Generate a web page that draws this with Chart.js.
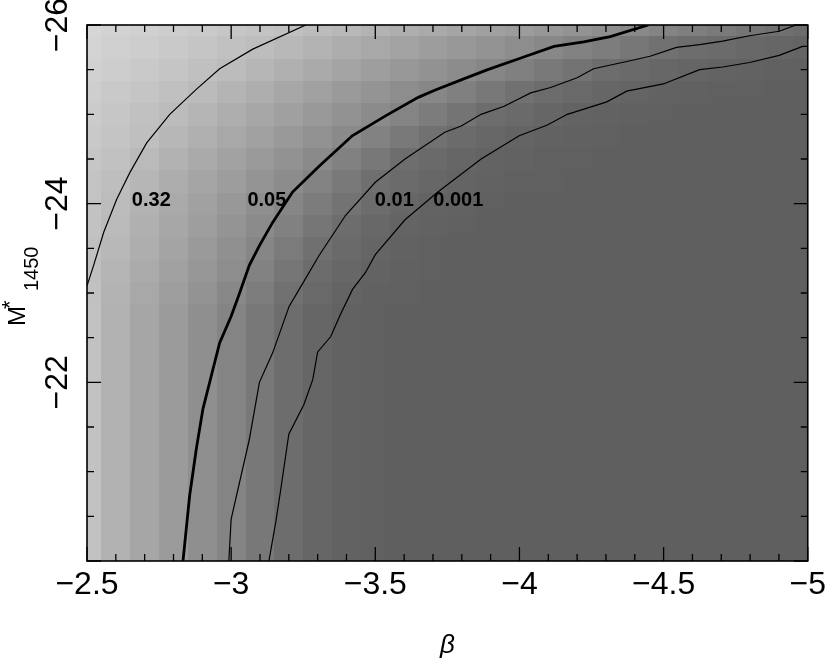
<!DOCTYPE html>
<html><head><meta charset="utf-8">
<script src="https://cdn.jsdelivr.net/npm/chart.js@4/dist/chart.umd.min.js"></script>
<style>html,body{margin:0;padding:0;background:#fff}canvas{display:block}</style>
</head><body>
<canvas id="c" width="831" height="658"></canvas>
<script>
// ---- grid of the grey map (cell centres) ----
const betaCells = [-2.5,-2.6,-2.7,-2.8,-2.9,-3.0,-3.1,-3.2,-3.3,-3.4,-3.5,-3.6,-3.7,-3.8,-3.9,-4.0,-4.1,-4.2,-4.3,-4.4,-4.5,-4.6,-4.7,-4.8,-4.9,-5.0];
const mCells = [-26,-25.75,-25.5,-25.25,-25,-24.75,-24.5,-24.25,-24,-23.75,-23.5,-23.25,-23,-22.75,-22.5,-22.25,-22,-21.75,-21.5,-21.25,-21,-20.75,-20.5,-20.25,-20];
// grey level (0-255) of each cell, one row per M*1450 value
const cellShade = [
 [214,211,208,205,202,198,195,192,188,184,179,174,170,165,160,156,151,147,142,137,132,127,122,117,112,108],
 [212,208,205,201,197,193,189,184,179,173,168,163,157,152,147,141,136,130,125,119,113,109,107,104,102,100],
 [209,205,201,197,192,188,182,176,170,164,158,152,146,140,134,128,121,115,109,106,103,101,99,98,97,96],
 [206,201,197,192,187,180,174,167,161,154,148,141,135,128,120,113,108,105,102,100,98,97,96,96,95,95],
 [203,198,193,188,181,174,167,160,153,146,139,132,124,116,109,106,102,99,98,97,96,95,95,95,95,95],
 [201,196,191,183,176,168,161,153,146,138,130,121,113,107,103,100,98,97,96,95,95,95,95,95,95,95],
 [198,193,186,178,170,162,154,146,138,129,120,110,106,102,99,98,96,96,95,95,95,95,95,95,95,95],
 [196,190,182,173,165,157,148,140,131,121,111,107,103,100,98,96,96,95,95,95,95,95,95,95,95,95],
 [195,188,179,170,161,152,143,134,124,115,108,103,99,98,96,95,95,95,95,95,95,95,95,95,95,95],
 [194,186,176,167,158,148,139,129,118,109,104,100,98,96,95,95,95,95,95,95,95,95,95,95,95,95],
 [192,184,174,164,154,144,134,123,112,106,101,98,96,95,95,95,95,95,95,95,95,95,95,95,95,95],
 [192,181,171,161,151,141,130,118,108,103,99,97,96,95,95,95,95,95,95,95,95,95,95,95,95,95],
 [193,179,168,158,147,136,125,113,105,100,97,96,95,95,95,95,95,95,95,95,95,95,95,95,95,95],
 [194,178,166,155,143,132,120,109,102,98,96,95,95,95,95,95,95,95,95,95,95,95,95,95,95,95],
 [194,178,166,155,143,132,120,109,102,98,96,95,95,95,95,95,95,95,95,95,95,95,95,95,95,95],
 [194,178,166,155,143,132,120,109,102,98,96,95,95,95,95,95,95,95,95,95,95,95,95,95,95,95],
 [194,178,166,155,143,132,120,109,102,98,96,95,95,95,95,95,95,95,95,95,95,95,95,95,95,95],
 [194,178,166,155,143,132,120,109,102,98,96,95,95,95,95,95,95,95,95,95,95,95,95,95,95,95],
 [194,178,166,155,143,132,120,109,102,98,96,95,95,95,95,95,95,95,95,95,95,95,95,95,95,95],
 [194,178,166,155,143,132,120,109,102,98,96,95,95,95,95,95,95,95,95,95,95,95,95,95,95,95],
 [194,178,166,155,143,132,120,109,102,98,96,95,95,95,95,95,95,95,95,95,95,95,95,95,95,95],
 [194,178,166,155,143,132,120,109,102,98,96,95,95,95,95,95,95,95,95,95,95,95,95,95,95,95],
 [194,178,166,155,143,132,120,109,102,98,96,95,95,95,95,95,95,95,95,95,95,95,95,95,95,95],
 [194,178,166,155,143,132,120,109,102,98,96,95,95,95,95,95,95,95,95,95,95,95,95,95,95,95],
 [194,178,166,155,143,132,120,109,102,98,96,95,95,95,95,95,95,95,95,95,95,95,95,95,95,95]
];

// ---- contour lines (beta, M*1450) ----
const c032Beta = [-3.259,-3.075,-2.960,-2.879,-2.787,-2.707,-2.649,-2.603,-2.558,-2.523,-2.500];
const c032M    = [-26.0,-25.73,-25.51,-25.28,-25.00,-24.68,-24.35,-24.05,-23.68,-23.31,-23.08];
const c005Beta = [-4.447,-4.315,-4.223,-4.120,-4.005,-3.890,-3.809,-3.706,-3.649,-3.534,-3.420,-3.305,-3.213,-3.144,-3.098,-3.063,-3.026,-3.000,-2.960,-2.902,-2.879,-2.856,-2.833];
const c005M    = [-26.0,-25.87,-25.81,-25.76,-25.63,-25.50,-25.40,-25.27,-25.19,-24.98,-24.76,-24.42,-24.13,-23.79,-23.53,-23.31,-22.97,-22.74,-22.44,-21.70,-21.25,-20.73,-20.0];
const c001Beta = [-4.959,-4.901,-4.798,-4.705,-4.625,-4.545,-4.453,-4.384,-4.257,-4.200,-4.108,-4.039,-3.947,-3.867,-3.798,-3.741,-3.603,-3.500,-3.397,-3.305,-3.236,-3.201,-3.144,-3.098,-3.063,-3.000,-2.992];
const c001M    = [-26.0,-25.93,-25.88,-25.82,-25.78,-25.75,-25.65,-25.60,-25.51,-25.41,-25.30,-25.24,-25.09,-25.00,-24.87,-24.80,-24.50,-24.24,-23.87,-23.42,-23.04,-22.85,-22.33,-22.00,-21.36,-20.47,-20.0];
const c0001Beta = [-5.000,-4.982,-4.901,-4.798,-4.705,-4.625,-4.499,-4.372,-4.303,-4.166,-4.097,-3.999,-3.867,-3.717,-3.603,-3.500,-3.466,-3.421,-3.379,-3.345,-3.300,-3.283,-3.252,-3.200,-3.172,-3.155,-3.131];
const c0001M    = [-25.76,-25.76,-25.66,-25.58,-25.53,-25.50,-25.34,-25.26,-25.14,-25.00,-24.88,-24.76,-24.50,-24.13,-23.82,-23.43,-23.23,-23.04,-22.76,-22.51,-22.34,-22.03,-21.75,-21.42,-20.80,-20.44,-20.0];

// ---- contour labels ----
const contourLabels = ['0.32','0.05','0.01','0.001'];
const contourLabelBeta = [-2.723,-3.124,-3.566,-3.788];
const contourLabelM = [-24.04,-24.04,-24.04,-24.04];

// ---- ticks ----
const xTickValues = [-2.5,-3,-3.5,-4,-4.5,-5];
const yTickValues = [-26,-24,-22];

const FONT = "'Liberation Sans', Arial, Helvetica, sans-serif";
const toPts = (bs, ms) => bs.map((b, i) => ({x: b, y: ms[i]}));
const minus = v => String(v).replace('-', '\u2212');

const mapPlugin = {
  id: 'greymap',
  beforeDatasetsDraw(chart) {
    const {ctx, chartArea: a, scales: {x, y}} = chart;
    ctx.save();
    ctx.beginPath();
    ctx.rect(a.left, a.top, a.right - a.left, a.bottom - a.top);
    ctx.clip();
    for (let i = 0; i < mCells.length; i++) {
      const yA = Math.round(y.getPixelForValue(mCells[i] - 0.125));
      const yB = Math.round(y.getPixelForValue(mCells[i] + 0.125));
      for (let j = 0; j < betaCells.length; j++) {
        const xA = Math.round(x.getPixelForValue(betaCells[j] + 0.05));
        const xB = Math.round(x.getPixelForValue(betaCells[j] - 0.05));
        const g = cellShade[i][j];
        ctx.fillStyle = 'rgb(' + g + ',' + g + ',' + g + ')';
        ctx.fillRect(Math.min(xA, xB), Math.min(yA, yB), Math.abs(xB - xA), Math.abs(yB - yA));
      }
    }
    ctx.restore();
  },
  afterDatasetsDraw(chart) {
    const {ctx, chartArea: a, scales: {x, y}} = chart;
    ctx.save();
    // contour labels
    ctx.fillStyle = '#000';
    ctx.font = 'bold 20px ' + FONT;
    ctx.textAlign = 'center';
    ctx.textBaseline = 'middle';
    contourLabels.forEach((t, i) => {
      ctx.fillText(t, x.getPixelForValue(contourLabelBeta[i]), y.getPixelForValue(contourLabelM[i]));
    });
    // frame
    ctx.strokeStyle = '#000';
    ctx.lineWidth = 1.6;
    ctx.strokeRect(a.left, a.top, a.right - a.left, a.bottom - a.top);
    // inward ticks on all four sides
    ctx.lineWidth = 1.3;
    ctx.beginPath();
    for (let k = 0; k <= 25; k++) {
      const px = x.getPixelForValue(-2.5 - 0.1 * k);
      const len = (k % 5 === 0) ? 14 : 7;
      ctx.moveTo(px, a.bottom); ctx.lineTo(px, a.bottom - len);
      ctx.moveTo(px, a.top); ctx.lineTo(px, a.top + len);
    }
    for (let k = 0; k <= 12; k++) {
      const py = y.getPixelForValue(-26 + 0.5 * k);
      const len = (k % 4 === 0) ? 14 : 7;
      ctx.moveTo(a.left, py); ctx.lineTo(a.left + len, py);
      ctx.moveTo(a.right, py); ctx.lineTo(a.right - len, py);
    }
    ctx.stroke();
    ctx.restore();
  },
  afterDraw(chart) {
    const {ctx} = chart;
    ctx.save();
    ctx.fillStyle = '#000';
    ctx.textBaseline = 'alphabetic';
    ctx.textAlign = 'left';
    ctx.translate(25, 326);
    ctx.rotate(-Math.PI / 2);
    ctx.font = '24px ' + FONT;
    ctx.fillText('M', 0, 0);
    ctx.font = '22px ' + FONT;
    ctx.fillText('*', 17, -8);
    ctx.font = '20px ' + FONT;
    ctx.fillText('1450', 35, 13);
    ctx.restore();
  }
};

new Chart(document.getElementById('c'), {
  type: 'line',
  data: {
    datasets: [
      {label: '0.32', data: toPts(c032Beta, c032M), borderColor: '#000', borderWidth: 1.2},
      {label: '0.05', data: toPts(c005Beta, c005M), borderColor: '#000', borderWidth: 2.8},
      {label: '0.01', data: toPts(c001Beta, c001M), borderColor: '#000', borderWidth: 1.2},
      {label: '0.001', data: toPts(c0001Beta, c0001M), borderColor: '#000', borderWidth: 1.2}
    ]
  },
  options: {
    responsive: false,
    animation: false,
    devicePixelRatio: 1,
    layout: {padding: {left: 0, right: 19, top: 25, bottom: 0}},
    elements: {point: {radius: 0}, line: {tension: 0, fill: false}},
    plugins: {legend: {display: false}, tooltip: {enabled: false}},
    scales: {
      x: {
        type: 'linear', min: -5, max: -2.5, reverse: true,
        grid: {display: false, drawTicks: false},
        border: {display: false},
        afterBuildTicks: s => { s.ticks = xTickValues.map(v => ({value: v})); },
        afterFit: s => { s.height = 97; },
        ticks: {autoSkip: false, maxRotation: 0, minRotation: 0, padding: 5, color: '#000',
                font: {family: FONT, size: 32}, callback: v => minus(v)},
        title: {display: true, text: 'β', color: '#000',
                font: {family: FONT, size: 26, style: 'italic'}, padding: {top: 0, bottom: -3}}
      },
      y: {
        type: 'linear', min: -26, max: -20, reverse: true,
        grid: {display: false, drawTicks: false},
        border: {display: false},
        afterBuildTicks: s => { s.ticks = yTickValues.map(v => ({value: v})); },
        afterFit: s => { s.width = 87; },
        ticks: {autoSkip: false, minRotation: 90, maxRotation: 90, crossAlign: 'center', padding: 2,
                color: '#000', font: {family: FONT, size: 32}, callback: v => minus(v)}
      }
    }
  },
  plugins: [mapPlugin]
});
</script>
</body></html>
